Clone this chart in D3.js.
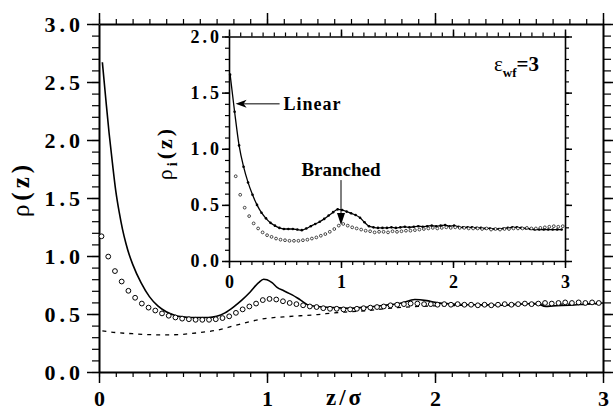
<!DOCTYPE html>
<html>
<head>
<meta charset="utf-8">
<script src="https://cdn.jsdelivr.net/npm/d3@7"></script>
<style>
  body { margin: 0; background: #fff; }
  svg { display: block; }
</style>
</head>
<body>
<svg id="chart" width="613" height="411"></svg>
<script>
// --- main plot: linear chains (solid line)
const mainLinearZ = [0.02,0.04,0.06,0.08,0.10,0.12,0.14,0.16,0.18,0.20,0.25,0.30,0.35,0.40,0.45,0.50,0.55,0.60,0.65,0.70,0.75,0.80,0.85,0.90,0.95,0.98,1.00,1.03,1.06,1.10,1.15,1.20,1.25,1.30,1.40,1.50,1.60,1.70,1.80,1.88,1.95,2.00,2.10,2.20,2.30,2.40,2.50,2.60,2.66,2.70,2.80,2.90,3.00];
const mainLinearRho = [2.67,2.36,2.06,1.80,1.56,1.38,1.23,1.11,1.01,0.93,0.77,0.65,0.57,0.52,0.49,0.475,0.47,0.47,0.47,0.48,0.51,0.56,0.62,0.69,0.77,0.80,0.795,0.77,0.73,0.70,0.665,0.62,0.575,0.565,0.555,0.55,0.56,0.575,0.595,0.625,0.615,0.60,0.585,0.58,0.58,0.575,0.585,0.59,0.565,0.57,0.575,0.585,0.595];

// --- main plot: branched chains (open circles)
const mainBranchedZ = [0.015,0.055,0.095,0.135,0.175,0.215,0.255,0.295,0.335,0.375,0.415,0.455,0.495,0.535,0.575,0.615,0.655,0.695,0.735,0.775,0.815,0.855,0.895,0.935,0.975,1.015,1.055,1.095,1.135,1.175,1.215,1.255,1.295,1.335,1.375,1.415,1.455,1.495,1.535,1.575,1.615,1.655,1.695,1.735,1.775,1.815,1.855,1.895,1.935,1.975,2.015,2.055,2.095,2.135,2.175,2.215,2.255,2.295,2.335,2.375,2.415,2.455,2.495,2.535,2.575,2.615,2.655,2.695,2.735,2.775,2.815,2.855,2.895,2.935,2.975];
const mainBranchedRho = [1.17,0.995,0.87,0.78,0.70,0.64,0.59,0.555,0.53,0.505,0.485,0.47,0.46,0.455,0.45,0.45,0.45,0.455,0.465,0.48,0.51,0.54,0.565,0.59,0.62,0.63,0.625,0.61,0.595,0.585,0.575,0.565,0.56,0.55,0.545,0.545,0.54,0.54,0.545,0.55,0.555,0.56,0.565,0.575,0.58,0.585,0.59,0.59,0.585,0.585,0.58,0.585,0.58,0.585,0.58,0.58,0.575,0.58,0.575,0.58,0.585,0.58,0.585,0.59,0.585,0.59,0.595,0.59,0.595,0.60,0.595,0.60,0.595,0.60,0.595];

// --- main plot: dashed line
const mainDashZ = [0.02,0.10,0.20,0.30,0.40,0.50,0.60,0.70,0.80,0.90,1.00,1.10,1.20,1.30,1.40,1.50,1.60,1.70,1.80,1.90,2.00,2.20,2.40,2.60,2.80,3.00];
const mainDashRho = [0.355,0.34,0.33,0.322,0.32,0.325,0.34,0.36,0.397,0.435,0.463,0.475,0.485,0.495,0.51,0.52,0.53,0.545,0.557,0.565,0.57,0.575,0.58,0.585,0.585,0.59];

// --- inset: linear (line with dots)
const insetLinearZ = [0.01,0.05,0.09,0.13,0.17,0.21,0.25,0.29,0.33,0.37,0.41,0.45,0.49,0.53,0.57,0.61,0.65,0.69,0.73,0.77,0.81,0.85,0.89,0.93,0.97,1.01,1.05,1.09,1.13,1.17,1.21,1.25,1.29,1.33,1.37,1.41,1.45,1.49,1.53,1.57,1.61,1.65,1.69,1.73,1.77,1.81,1.85,1.89,1.93,1.97,2.01,2.05,2.09,2.13,2.17,2.21,2.25,2.29,2.33,2.37,2.41,2.45,2.49,2.53,2.57,2.61,2.65,2.69,2.73,2.77,2.81,2.85,2.89,2.93,2.97];
const insetLinearRho = [1.66,1.33,1.03,0.84,0.70,0.59,0.50,0.43,0.38,0.34,0.315,0.295,0.285,0.285,0.285,0.28,0.275,0.29,0.31,0.33,0.35,0.375,0.405,0.435,0.46,0.455,0.44,0.425,0.41,0.385,0.345,0.31,0.30,0.295,0.295,0.295,0.30,0.295,0.30,0.305,0.30,0.305,0.31,0.305,0.31,0.315,0.31,0.315,0.32,0.31,0.315,0.305,0.30,0.30,0.30,0.295,0.295,0.29,0.29,0.285,0.285,0.29,0.295,0.30,0.30,0.295,0.29,0.285,0.28,0.28,0.28,0.28,0.28,0.28,0.28];

// --- inset: branched (small open circles)
const insetBranchedZ = [0.06,0.10,0.14,0.18,0.22,0.26,0.30,0.34,0.38,0.42,0.46,0.50,0.54,0.58,0.62,0.66,0.70,0.74,0.78,0.82,0.86,0.90,0.94,0.98,1.02,1.06,1.10,1.14,1.18,1.22,1.26,1.30,1.34,1.38,1.42,1.46,1.50,1.54,1.58,1.62,1.66,1.70,1.74,1.78,1.82,1.86,1.90,1.94,1.98,2.02,2.06,2.10,2.14,2.18,2.22,2.26,2.30,2.34,2.38,2.42,2.46,2.50,2.54,2.58,2.62,2.66,2.70,2.74,2.78,2.82,2.86,2.90,2.94,2.98];
const insetBranchedRho = [0.755,0.59,0.475,0.40,0.335,0.29,0.255,0.23,0.215,0.20,0.19,0.185,0.18,0.18,0.18,0.185,0.19,0.20,0.21,0.225,0.24,0.26,0.285,0.315,0.33,0.315,0.30,0.29,0.28,0.27,0.265,0.255,0.26,0.26,0.255,0.265,0.26,0.265,0.27,0.27,0.275,0.28,0.285,0.29,0.295,0.29,0.295,0.30,0.295,0.30,0.295,0.295,0.29,0.29,0.29,0.285,0.29,0.28,0.285,0.28,0.285,0.285,0.29,0.29,0.29,0.295,0.29,0.29,0.295,0.30,0.305,0.31,0.305,0.31];

const mainYTicks = [0, 0.5, 1.0, 1.5, 2.0, 2.5, 3.0];
const mainXTicks = [0, 1, 2, 3];
const insetYTicks = [0, 0.5, 1.0, 1.5, 2.0];
const insetXTicks = [0, 1, 2, 3];

const SERIF = '"Liberation Serif", "Times New Roman", Times, serif';

const svg = d3.select('#chart');
svg.append('rect').attr('width', 613).attr('height', 411).attr('fill', '#fff');

// escales
const x = d3.scaleLinear().domain([0, 3]).range([99, 603]);
const y = d3.scaleLinear().domain([0, 3]).range([372, 24]);
const xi = d3.scaleLinear().domain([0, 3]).range([229, 565]);
const yi = d3.scaleLinear().domain([0, 2]).range([261, 36.5]);

const minorMain = d3.range(0, 3.001, 0.1);
const minorInsetY = d3.range(0, 2.001, 0.1);

// eix amb marques menors i majors
function drawAxis(parent, gen, scale, tr, minorVals, majorVals, minorLen, majorLen, opts) {
  opts = opts || {};
  const gm = parent.append('g').attr('transform', tr)
    .call(gen(scale).tickValues(minorVals).tickSize(minorLen).tickSizeOuter(0).tickFormat(''));
  gm.select('.domain').remove();
  gm.selectAll('line').attr('stroke-width', 1.2);
  const g = parent.append('g').attr('transform', tr)
    .call(gen(scale).tickValues(majorVals).tickSize(majorLen).tickSizeOuter(0)
      .tickPadding(opts.pad || 0).tickFormat(opts.fmt || ''));
  g.select('.domain').attr('stroke-width', opts.domainW || 2);
  g.selectAll('line').attr('stroke-width', 1.5);
  g.selectAll('text')
    .attr('font-family', SERIF)
    .attr('font-weight', 'bold')
    .attr('font-size', opts.fs || 20)
    .attr('letter-spacing', opts.ls || 0)
    .attr('fill', '#000');
  return g;
}

// --- eixos principals
drawAxis(svg, d3.axisBottom, x, 'translate(0,372)', minorMain, mainXTicks, 5, 11,
  { fmt: d3.format('d'), pad: 7, fs: 22, ls: 0 });
drawAxis(svg, d3.axisTop, x, 'translate(0,24)', minorMain, mainXTicks, 5, 11, {});
drawAxis(svg, d3.axisLeft, y, 'translate(99,0)', minorMain, mainYTicks, 7, 12,
  { fmt: d3.format('.1f'), pad: 3, fs: 22, ls: 4 });
drawAxis(svg, d3.axisRight, y, 'translate(603,0)', minorMain, mainYTicks, 8, 10, {});

// --- corbes principals
const line = d3.line().x(d => x(d[0])).y(d => y(d[1]));

svg.append('path')
  .datum(d3.zip(mainDashZ, mainDashRho))
  .attr('d', line.curve(d3.curveMonotoneX))
  .attr('fill', 'none').attr('stroke', '#000').attr('stroke-width', 1.3)
  .attr('stroke-dasharray', '4,5');

svg.append('path')
  .datum(d3.zip(mainLinearZ, mainLinearRho))
  .attr('d', line.curve(d3.curveMonotoneX))
  .attr('fill', 'none').attr('stroke', '#000').attr('stroke-width', 1.6);

svg.append('g').selectAll('circle')
  .data(d3.zip(mainBranchedZ, mainBranchedRho))
  .join('circle')
  .attr('cx', d => x(d[0])).attr('cy', d => y(d[1])).attr('r', 2.4)
  .attr('fill', '#fff').attr('stroke', '#000').attr('stroke-width', 1);

// --- etiquetes principals
svg.append('text')
  .attr('transform', 'translate(29,189) rotate(-90)')
  .attr('text-anchor', 'middle')
  .attr('font-family', SERIF).attr('font-size', 25).attr('letter-spacing', 4)
  .call(t => {
    t.append('tspan').text('ρ');
    t.append('tspan').attr('font-weight', 'bold').text('(z)');
  });

svg.append('text')
  .attr('x', 345).attr('y', 405)
  .attr('text-anchor', 'middle')
  .attr('font-family', SERIF).attr('font-size', 23).attr('letter-spacing', 3)
  .call(t => {
    t.append('tspan').attr('font-weight', 'bold').text('z/');
    t.append('tspan').attr('font-weight', 'bold').text('σ');
  });

// --- gràfic inserit
const inset = svg.append('g');
inset.append('rect')
  .attr('x', xi(0)).attr('y', yi(2)).attr('width', xi(3) - xi(0)).attr('height', yi(0) - yi(2))
  .attr('fill', '#fff');

drawAxis(inset, d3.axisBottom, xi, 'translate(0,' + yi(0) + ')', minorMain, insetXTicks, 4, 7,
  { fmt: d3.format('d'), pad: 7, fs: 18, ls: 0, domainW: 1.6 });
drawAxis(inset, d3.axisTop, xi, 'translate(0,' + yi(2) + ')', minorMain, insetXTicks, 4, 7, { domainW: 1.6 });
drawAxis(inset, d3.axisLeft, yi, 'translate(' + xi(0) + ',0)', minorInsetY, insetYTicks, 4, 7,
  { fmt: d3.format('.1f'), pad: 0, fs: 18, ls: 3, domainW: 1.6 });
drawAxis(inset, d3.axisRight, yi, 'translate(' + xi(3) + ',0)', minorInsetY, insetYTicks, 4, 7, { domainW: 1.6 });

const lineI = d3.line().x(d => xi(d[0])).y(d => yi(d[1])).curve(d3.curveMonotoneX);
inset.append('path')
  .datum(d3.zip(insetLinearZ, insetLinearRho))
  .attr('d', lineI)
  .attr('fill', 'none').attr('stroke', '#000').attr('stroke-width', 1.3);

inset.append('g').selectAll('circle')
  .data(d3.zip(insetLinearZ, insetLinearRho))
  .join('circle')
  .attr('cx', d => xi(d[0])).attr('cy', d => yi(d[1])).attr('r', 1.3)
  .attr('fill', '#000');

inset.append('g').selectAll('circle')
  .data(d3.zip(insetBranchedZ, insetBranchedRho))
  .join('circle')
  .attr('cx', d => xi(d[0])).attr('cy', d => yi(d[1])).attr('r', 1.4)
  .attr('fill', '#fff').attr('stroke', '#000').attr('stroke-width', 0.7);

// etiqueta de l'eix y de l'inserit
inset.append('text')
  .attr('transform', 'translate(172,153) rotate(-90)')
  .attr('text-anchor', 'middle')
  .attr('font-family', SERIF).attr('font-size', 22).attr('letter-spacing', 3)
  .call(t => {
    t.append('tspan').text('ρ');
    t.append('tspan').attr('font-weight', 'bold').attr('font-size', 14).attr('dy', 5).text('i');
    t.append('tspan').attr('font-weight', 'bold').attr('dy', -5).text('(z)');
  });

// ε_wf = 3
inset.append('text')
  .attr('x', 494).attr('y', 71)
  .attr('font-family', SERIF).attr('font-size', 21)
  .call(t => {
    t.append('tspan').text('ε');
    t.append('tspan').attr('font-weight', 'bold').attr('font-size', 13).attr('dy', 6).text('wf');
    t.append('tspan').attr('font-weight', 'bold').attr('dy', -6).text('=3');
  });

// fletxa "Linear"
const linTipX = xi(0.05) + 1, linTipY = yi(1.4);
inset.append('line')
  .attr('x1', linTipX + 6).attr('y1', linTipY).attr('x2', linTipX + 44).attr('y2', linTipY)
  .attr('stroke', '#000').attr('stroke-width', 1);
inset.append('path')
  .attr('d', `M${linTipX},${linTipY} L${linTipX + 11},${linTipY - 4} L${linTipX + 8},${linTipY} L${linTipX + 11},${linTipY + 4} Z`)
  .attr('fill', '#000');
inset.append('text')
  .attr('x', linTipX + 48).attr('y', linTipY + 6)
  .attr('font-family', SERIF).attr('font-weight', 'bold').attr('font-size', 18).attr('letter-spacing', 1)
  .text('Linear');

// fletxa "Branched"
const brX = xi(1.0), brTipY = yi(0.32);
inset.append('line')
  .attr('x1', brX).attr('y1', brTipY - 45).attr('x2', brX).attr('y2', brTipY - 8)
  .attr('stroke', '#000').attr('stroke-width', 1);
inset.append('path')
  .attr('d', `M${brX},${brTipY} L${brX - 4},${brTipY - 12} L${brX + 4},${brTipY - 12} Z`)
  .attr('fill', '#000');
inset.append('text')
  .attr('x', brX).attr('y', brTipY - 49)
  .attr('text-anchor', 'middle')
  .attr('font-family', SERIF).attr('font-weight', 'bold').attr('font-size', 19)
  .text('Branched');
</script>
</body>
</html>
